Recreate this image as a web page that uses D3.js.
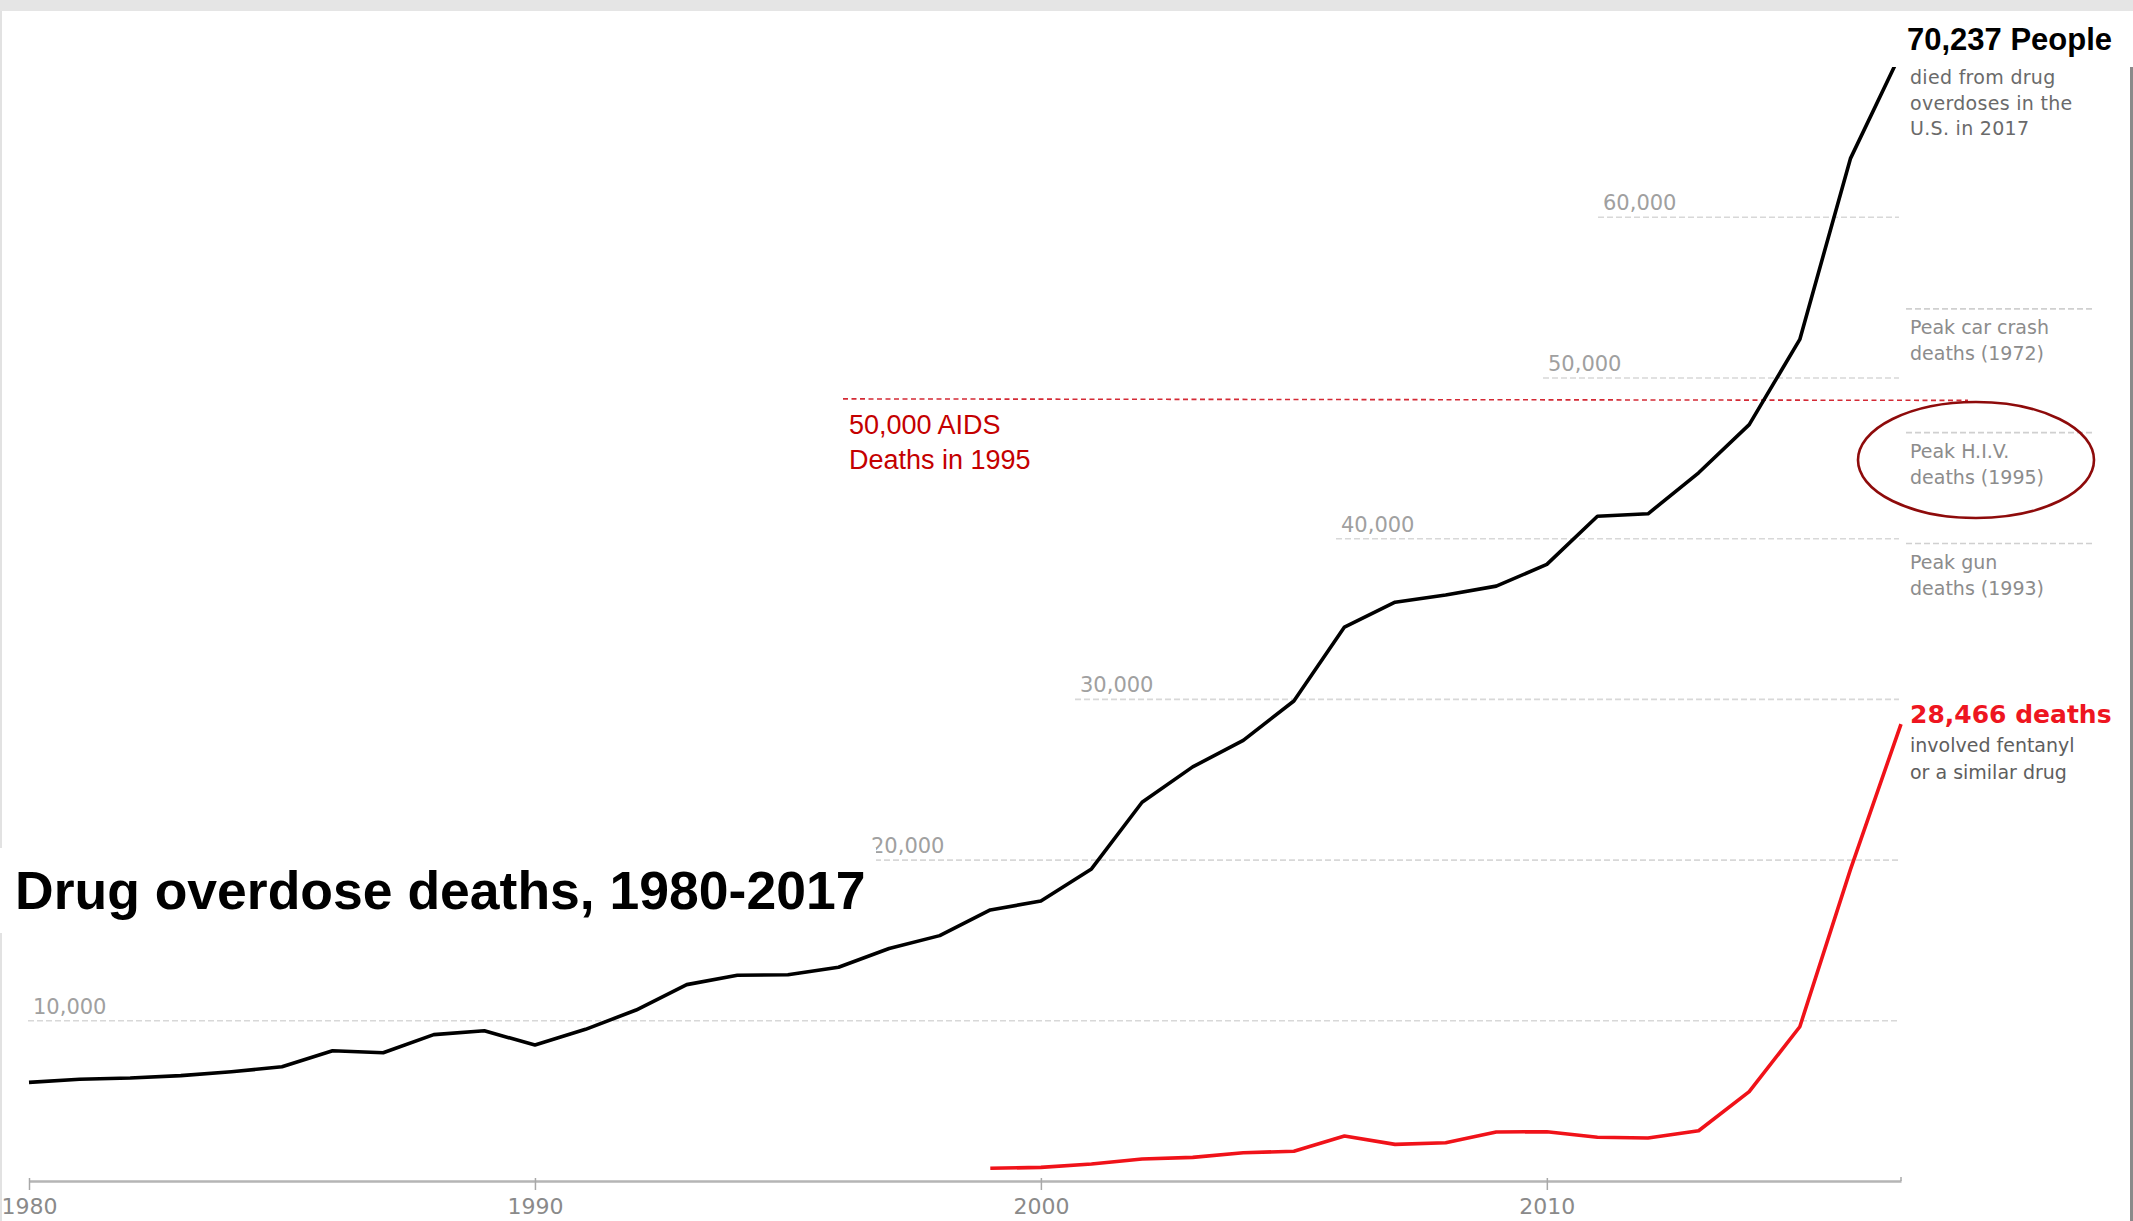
<!DOCTYPE html>
<html><head><meta charset="utf-8">
<script src="https://cdn.jsdelivr.net/npm/d3@7"></script>
<style>html,body{margin:0;padding:0;background:#fff;} svg{display:block;}</style>
</head><body>
<svg id="chart" width="2133" height="1221"></svg>
<script>
// ---------- DATA ----------
const years = [1980,1981,1982,1983,1984,1985,1986,1987,1988,1989,1990,1991,1992,1993,1994,1995,1996,1997,1998,1999,2000,2001,2002,2003,2004,2005,2006,2007,2008,2009,2010,2011,2012,2013,2014,2015,2016,2017];
const overdoseDeaths = [6170,6360,6440,6590,6830,7140,8140,8010,9140,9380,8490,9470,10670,12250,12830,12870,13330,14500,15300,16900,17450,19450,23600,25800,27450,29900,34500,36050,36500,37050,38400,41400,41550,44100,47100,52400,63650,70237];
const fentanylYears = [1999,2000,2001,2002,2003,2004,2005,2006,2007,2008,2009,2010,2011,2012,2013,2014,2015,2016,2017];
const fentanylDeaths = [820,880,1090,1400,1500,1790,1880,2830,2310,2410,3080,3100,2750,2710,3160,5590,9630,19410,28466];
const gridValues = [10000,20000,30000,40000,50000,60000];
const gridLabels = ["10,000","20,000","30,000","40,000","50,000","60,000"];
const xTickValues = [1980,1990,2000,2010];
const xTickLabels = ["1980","1990","2000","2010"];
const refValues = [54300,46600,39700];
const refLabels = [["Peak car crash","deaths (1972)"],["Peak H.I.V.","deaths (1995)"],["Peak gun","deaths (1993)"]];
const aidsValue = 48700;
const aidsLabel = ["50,000 AIDS","Deaths in 1995"];
const totalLabel = "70,237 People";
const totalNote = ["died from drug","overdoses in the","U.S. in 2017"];
const fentLabel = "28,466 deaths";
const fentNote = ["involved fentanyl","or a similar drug"];
const titleText = "Drug overdose deaths, 1980-2017";

// ---------- LAYOUT ----------
const W = 2133, H = 1221;
const gridStartX = [28, 866, 1075, 1336, 1543, 1598];
const svg = d3.select("#chart");
const x = d3.scaleLinear().domain([1980, 2017]).range([29, 1901]);
const y = d3.scaleLinear().domain([0, 70000]).range([1181.5, 1181.5 - 7 * 160.7]);
const sans = "'Liberation Sans', Arial, sans-serif";
const dv = "'DejaVu Sans', sans-serif";

svg.append("rect").attr("width", W).attr("height", H).attr("fill", "#fff");
// frame
svg.append("rect").attr("x", 0).attr("y", 0).attr("width", W).attr("height", 11).attr("fill", "#e5e5e5");
svg.append("rect").attr("x", 0).attr("y", 11).attr("width", 2).attr("height", H - 11).attr("fill", "#e2e2e2");
svg.append("rect").attr("x", 2130).attr("y", 11).attr("width", 3).attr("height", H - 11).attr("fill", "#8a8a8a");

// gridlines
const grid = svg.append("g");
gridValues.forEach((v, i) => {
  grid.append("line")
    .attr("x1", gridStartX[i]).attr("x2", x(2017) - 2)
    .attr("y1", y(v)).attr("y2", y(v))
    .attr("stroke", "#d8d8d8").attr("stroke-width", 1.6).attr("stroke-dasharray", "6,3");
  grid.append("text")
    .attr("x", gridStartX[i] + 5).attr("y", y(v) - 7)
    .attr("font-family", dv).attr("font-size", 21).attr("fill", "#a0a0a0")
    .text(gridLabels[i]);
});

// reference lines on the right
const refs = svg.append("g");
refValues.forEach((v, i) => {
  refs.append("line")
    .attr("x1", 1906).attr("x2", 2094).attr("y1", y(v)).attr("y2", y(v))
    .attr("stroke", "#d0d0d0").attr("stroke-width", 1.6).attr("stroke-dasharray", "6,3");
  refLabels[i].forEach((t, j) => {
    refs.append("text")
      .attr("x", 1910).attr("y", y(v) + 25.5 + j * 25.5)
      .attr("font-family", dv).attr("font-size", 19).attr("fill", "#8c8c8c")
      .text(t);
  });
});

// AIDS dashed line
svg.append("line")
  .attr("x1", 843).attr("x2", 1968).attr("y1", y(aidsValue)).attr("y2", y(aidsValue) + 1.5)
  .attr("stroke", "#d42a35").attr("stroke-width", 1.6).attr("stroke-dasharray", "5,3.5");
aidsLabel.forEach((t, j) => {
  svg.append("text").attr("x", 849).attr("y", 434 + j * 35)
    .attr("font-family", sans).attr("font-size", 27).attr("fill", "#c40000").text(t);
});

// x axis
const xAxis = d3.axisBottom(x).tickValues(xTickValues)
  .tickFormat((d, i) => xTickLabels[i]).tickSizeInner(9).tickSizeOuter(0).tickPadding(8);
const ax = svg.append("g").attr("transform", `translate(0,${y(0) - 0.5})`).call(xAxis);
ax.select(".domain").attr("stroke", "#b5b5b5").attr("stroke-width", 2.5);
ax.selectAll(".tick line").attr("stroke", "#a8a8a8").attr("stroke-width", 1.5).attr("y1", -3);
ax.selectAll(".tick text").attr("font-family", dv).attr("font-size", 22).attr("fill", "#8a8a8a");
ax.append("line").attr("x1", x(2017)).attr("x2", x(2017)).attr("y1", 0).attr("y2", -4)
  .attr("stroke", "#a8a8a8").attr("stroke-width", 1.5);

// lines
const line = d3.line().x(d => x(d[0])).y(d => y(d[1]));
svg.append("path")
  .datum(years.map((yr, i) => [yr, overdoseDeaths[i]]))
  .attr("d", line).attr("fill", "none").attr("stroke", "#000")
  .attr("stroke-width", 3.6).attr("stroke-linejoin", "round");
svg.append("path")
  .datum(fentanylYears.map((yr, i) => [yr, fentanylDeaths[i]]))
  .attr("d", line).attr("fill", "none").attr("stroke", "#f01219")
  .attr("stroke-width", 3.6).attr("stroke-linejoin", "round");

// white boxes behind headline texts
svg.append("rect").attr("x", 0).attr("y", 848).attr("width", 876).attr("height", 85).attr("fill", "#fff");
svg.append("rect").attr("x", 1880).attr("y", 11).attr("width", 253).attr("height", 56).attr("fill", "#fff");

// title
svg.append("text").attr("x", 15).attr("y", 909)
  .attr("font-family", sans).attr("font-weight", "bold").attr("font-size", 53.5).attr("fill", "#000")
  .text(titleText);

// total annotation
svg.append("text").attr("x", 1907).attr("y", 50)
  .attr("font-family", sans).attr("font-weight", "bold").attr("font-size", 31).attr("fill", "#000")
  .text(totalLabel);
totalNote.forEach((t, j) => {
  svg.append("text").attr("x", 1910).attr("y", 84 + j * 25.5)
    .attr("font-family", dv).attr("font-size", 19).attr("fill", "#6a6a6a")
    .attr("letter-spacing", 0.3).text(t);
});

// fentanyl annotation
svg.append("text").attr("x", 1910).attr("y", 723)
  .attr("font-family", dv).attr("font-weight", "bold").attr("font-size", 25).attr("fill", "#ee1520")
  .text(fentLabel);
fentNote.forEach((t, j) => {
  svg.append("text").attr("x", 1910).attr("y", 752 + j * 27)
    .attr("font-family", dv).attr("font-size", 19).attr("fill", "#5e5e5e").text(t);
});

// ellipse highlight
svg.append("ellipse").attr("cx", 1976).attr("cy", 460).attr("rx", 118).attr("ry", 58)
  .attr("fill", "none").attr("stroke", "#8e0b0b").attr("stroke-width", 2.6);
</script>
</body></html>
